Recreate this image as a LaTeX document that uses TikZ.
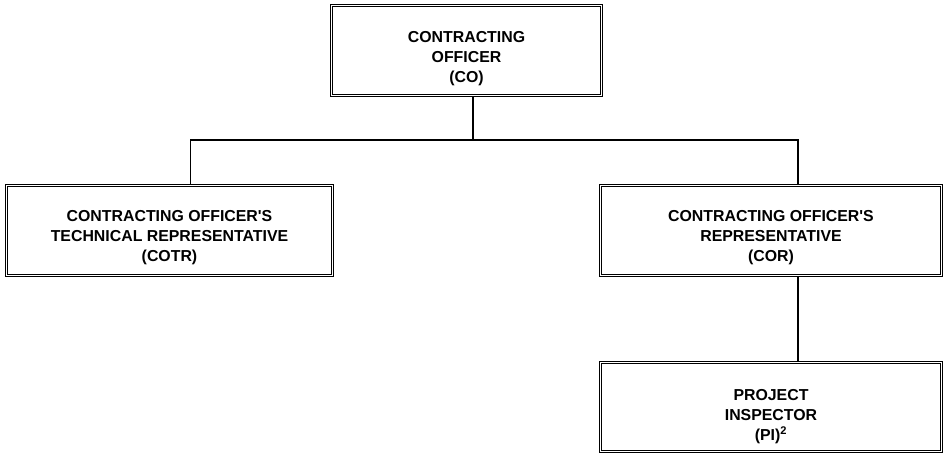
\documentclass[tikz,border=0pt]{standalone}
\usepackage{fontspec}
\setmainfont{Liberation Sans}
\usetikzlibrary{calc}

\tikzset{
	office/.style={draw, double, line width=0.9pt, double distance=0.75pt, inner sep=0pt},
	officetext/.style={align=center, font=\bfseries\fontsize{11.9}{15}\selectfont},
	link/.style={line width=0.8pt}
}

\begin{document}
\begin{tikzpicture}[x=0.75pt,y=-0.75pt]
		
		\useasboundingbox (0,0) rectangle (945,454);
		
		%	top of the chart
		\node[office, minimum width=202.5pt, minimum height=67.5pt,
			label={[officetext, yshift=-6.2pt]center:{CONTRACTING\\OFFICER\\(CO)}}] (co) at (466.5,50.5) {};
		
		%	second row
		\node[office, minimum width=244.5pt, minimum height=67.5pt,
			label={[officetext, yshift=-5.6pt]center:{CONTRACTING OFFICER\textquotesingle S\\TECHNICAL REPRESENTATIVE\\(COTR)}}] (cotr) at (169.5,230.5) {};
		
		\node[office, minimum width=255.75pt, minimum height=67.5pt,
			label={[officetext, yshift=-5.6pt]center:{CONTRACTING OFFICER\textquotesingle S\\REPRESENTATIVE\\(COR)}}] (cor) at (771,230.5) {};
		
		%	bottom
		\node[office, minimum width=255.75pt, minimum height=66.75pt,
			label={[officetext, yshift=-7.2pt]center:{PROJECT\\INSPECTOR\\(PI)\textsuperscript{2}}}] (pi) at (771,407) {};
		
		%	connectors
		\coordinate (bus) at (473,140);
		\draw[link] (co.south -| bus) -- (bus);
		\draw[link] ([xshift=15.4pt]cotr.north) |- (bus) -| ([xshift=20.25pt]cor.north);
		\draw[link] ([xshift=20.25pt]cor.south) -- ([xshift=20.25pt]pi.north);
		
\end{tikzpicture}
\end{document}
